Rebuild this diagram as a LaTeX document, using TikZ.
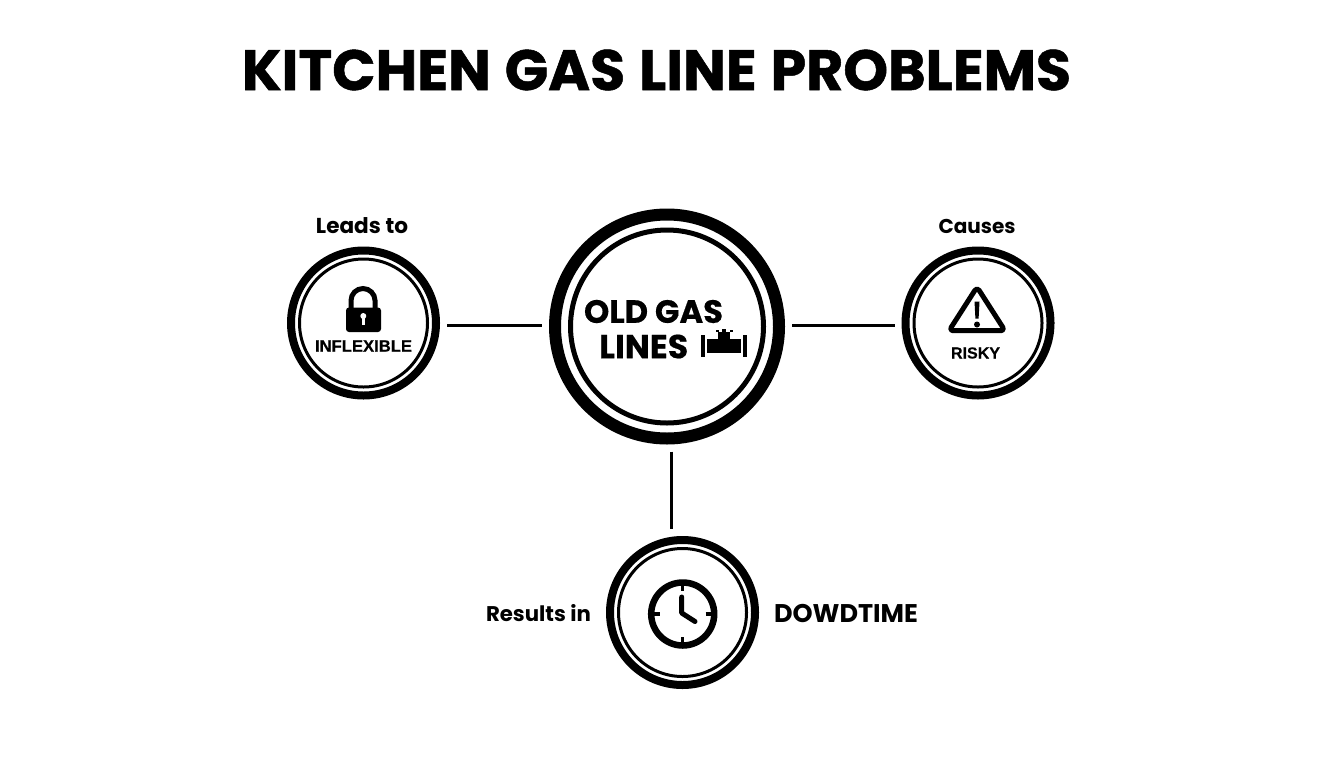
\documentclass[tikz,border=0pt]{standalone}
\usepackage{fontspec}
\setmainfont{Poppins}
\newfontfamily\heavyf[FakeBold=0.9,WordSpace=1.15]{Poppins Bold}
\newfontfamily\midf[FakeBold=0.5]{Poppins Bold}
\newfontfamily\labelf[FakeBold=0.4]{Liberation Sans Bold}
\newlength\pxl \pxl=0.75pt
\newcommand\fitw[2]{\resizebox{#1\pxl}{!}{#2}}
\tikzset{
  x=1\pxl, y=-1\pxl,
  bigring/.style={circle, draw=black, line width=12\pxl, minimum size=224\pxl, inner sep=0pt, outer sep=13\pxl},
  ring/.style={circle, draw=black, line width=8\pxl, minimum size=145\pxl, inner sep=0pt, outer sep=11\pxl},
  innerbig/.style={circle, draw=black, line width=5\pxl, minimum size=193\pxl, inner sep=0pt},
  innersmall/.style={circle, draw=black, line width=3\pxl, minimum size=128\pxl, inner sep=0pt},
  link/.style={draw=black, line width=3\pxl},
  txt/.style={inner sep=0pt, outer sep=0pt, text=black},
  icon/.style={draw=black, line width=5\pxl, line cap=round, line join=round},
}
\begin{document}
\begin{tikzpicture}
\useasboundingbox (0,0) rectangle (1344,768);
\fill[white] (0,0) rectangle (1344,768);
% title
\node[txt] (title) at (656.5,70) {\fitw{829}{\heavyf KITCHEN GAS LINE PROBLEMS}};
% rings
\node[bigring] (old) at (667,326.5) {};
\node[innerbig] (oldin) at (old.center) {};
\node[ring] (inflex) at (363.5,323) {};
\node[innersmall] (inflexin) at (inflex.center) {};
\node[ring] (risky) at (978,323) {};
\node[innersmall] (riskyin) at (risky.center) {};
\node[ring] (down) at (682.5,612.5) {};
\node[innersmall] (downin) at (down.center) {};
% connectors
\coordinate (hline) at (0,325);
\coordinate (vline) at (671,0);
\draw[link] (inflex.east |- hline) -- (old.west |- hline);
\draw[link] (old.east |- hline) -- (risky.west |- hline);
\draw[link] (old.south -| vline) -- (down.north -| vline);
% labels
\node[txt] (leads) at (362,226) {\fitw{92}{\bfseries Leads to}};
\node[txt] (causes) at (977,226) {\fitw{77}{\bfseries Causes}};
\node[txt] (results) at (538.5,613) {\fitw{105}{\bfseries Results in}};
\node[txt] (dt) at (846,613) {\fitw{144}{\bfseries DOWDTIME}};
\node[txt] (oldgas) at (653.5,311.5) {\fitw{139}{\midf OLD GAS}};
\node[txt] (lines) at (643.7,346.5) {\fitw{89}{\midf LINES}};
\node[txt] (inflext) at (363.5,346) {\fitw{97}{\labelf INFLEXIBLE}};
\node[txt] (riskyt) at (975.5,353) {\fitw{49}{\labelf RISKY}};
% padlock
\draw[black, line width=5\pxl] (351,308) -- (351,300.5) arc[start angle=180, end angle=360, radius=12] -- (375,308);
\fill[black, rounded corners=3\pxl] (346,307.5) rectangle (381,332);
\fill[white] (363.3,316) circle[radius=3];
\fill[white] (361.8,316) rectangle (364.8,325);
% warning
\draw[icon, rounded corners=4\pxl] (977,287) -- (1005,330.7) -- (949,330.7) -- cycle;
\fill[black] (974.5,301.5) -- (979.5,301.5) -- (978.6,318.5) -- (975.4,318.5) -- cycle;
\fill[black] (977,324.5) circle[radius=3];
% clock
\draw[black, line width=6.5\pxl] (682.7,614) circle[radius=31.5];
\draw[black, line width=3.5\pxl] (682.7,584) -- (682.7,591);
\draw[black, line width=3.5\pxl] (682.7,637) -- (682.7,644);
\draw[black, line width=3.5\pxl] (653,614) -- (660,614);
\draw[black, line width=3.5\pxl] (705.5,614) -- (712.5,614);
\draw[icon] (681.7,597) -- (681.7,613) -- (695,621.5);
% pipe
\fill[black] (700.7,335) rectangle (704.7,357.3);
\fill[black] (743.3,335) rectangle (747.3,357.3);
\fill[black] (706.7,339) rectangle (741.3,353.3);
\fill[black] (718.3,332) rectangle (730,339);
\fill[black] (716,329.5) rectangle (719,331.5);
\fill[black] (722,328.5) rectangle (726,331.5);
\fill[black] (729.5,329.5) rectangle (733,331.5);
\end{tikzpicture}
\end{document}
